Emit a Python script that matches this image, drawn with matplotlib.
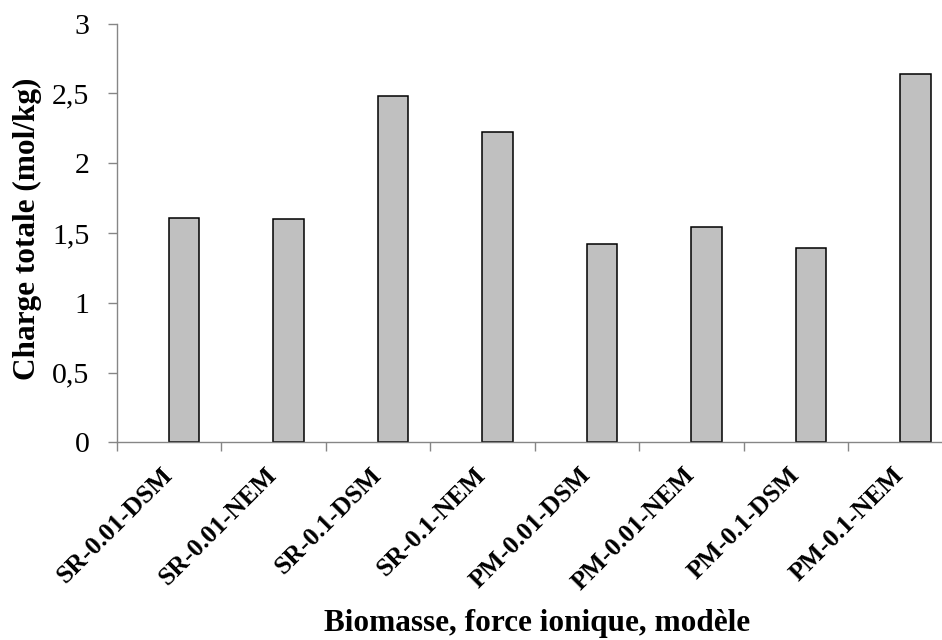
import matplotlib
matplotlib.use("Agg")
import matplotlib.pyplot as plt
from matplotlib.ticker import FuncFormatter, MultipleLocator, FixedLocator

# Data
categories = ["SR-0.01-DSM", "SR-0.01-NEM", "SR-0.1-DSM", "SR-0.1-NEM",
              "PM-0.01-DSM", "PM-0.01-NEM", "PM-0.1-DSM", "PM-0.1-NEM"]
charge_totale = [1.61, 1.60, 2.48, 2.22, 1.42, 1.54, 1.39, 2.64]
y_label = "Charge totale (mol/kg)"
x_label = "Biomasse, force ionique, modèle"

plt.rcParams["font.family"] = ["Liberation Serif", "DejaVu Serif"]

W, H = 942, 640
fig = plt.figure(figsize=(W / 100, H / 100), dpi=100)

# axes box in pixel terms (category slots ~104.5 px wide)
left_px, right_px = 116.5, 116.5 + 8 * 104.5
top_px, bottom_px = 23.5, 442.3
ax = fig.add_axes([left_px / W, 1 - bottom_px / H,
                   (right_px - left_px) / W, (bottom_px - top_px) / H])

axis_grey = "#868686"
xpos = list(range(len(categories)))
ax.bar(xpos, charge_totale, width=0.29, align="edge",
       color="#C0C0C0", edgecolor="black", linewidth=1.1, zorder=2)

ax.set_xlim(-0.5, len(categories) - 0.5)
ax.set_ylim(0, 3)

for s in ("top", "right"):
    ax.spines[s].set_visible(False)
for s in ("left", "bottom"):
    ax.spines[s].set_color(axis_grey)
    ax.spines[s].set_linewidth(1.0)
    ax.spines[s].set_zorder(3)

# y axis: ticks every 0.5 with comma decimal separator
ax.yaxis.set_major_locator(MultipleLocator(0.5))
ax.yaxis.set_major_formatter(FuncFormatter(
    lambda v, _: ("%g" % v).replace(".", ",")))
ax.tick_params(axis="y", direction="out", length=6.5, width=1.0,
               color=axis_grey, labelsize=21.5, pad=13)

# x axis: tick marks between categories, labels at category centres
ax.xaxis.set_major_locator(FixedLocator([i - 0.5 for i in range(len(categories) + 1)]))
ax.xaxis.set_major_formatter(FuncFormatter(lambda v, _: ""))
ax.xaxis.set_minor_locator(FixedLocator(xpos))
ax.set_xticklabels(categories, minor=True)
ax.tick_params(axis="x", which="major", direction="out", length=6.5, width=1.0,
               color=axis_grey)
ax.tick_params(axis="x", which="minor", length=0, pad=21, labelsize=18.5)
for lab in ax.get_xticklabels(minor=True):
    lab.set_rotation(45)
    lab.set_ha("right")
    lab.set_va("center")
    lab.set_rotation_mode("anchor")
    lab.set_fontweight("bold")

fig.text(27 / W, 1 - 228.5 / H, y_label, rotation=90, ha="center", va="center",
         fontsize=22.5, fontweight="bold")
fig.text(537 / W, 1 - 631.5 / H, x_label, ha="center", va="baseline",
         fontsize=22.5, fontweight="bold")

fig.savefig("out.png", dpi=100)
